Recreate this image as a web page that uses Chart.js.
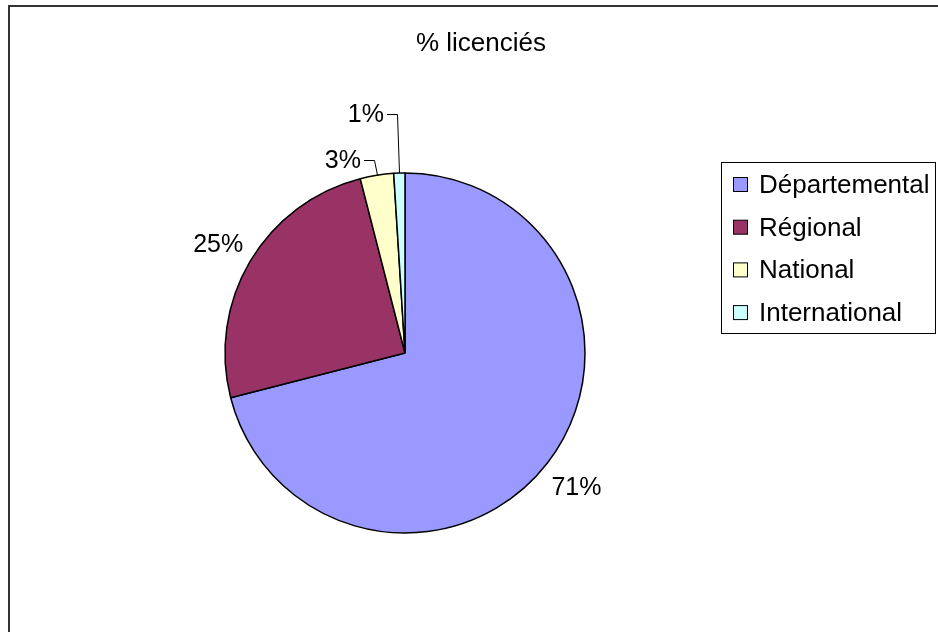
<!DOCTYPE html>
<html>
<head>
<meta charset="utf-8">
<script src="https://cdn.jsdelivr.net/npm/chart.js@4.4.0/dist/chart.umd.min.js"></script>
<style>
  html, body { margin: 0; padding: 0; background: #fff; }
  #wrap { width: 938px; height: 632px; position: relative; }
</style>
</head>
<body>
<div id="wrap"><canvas id="myChart" width="938" height="632"></canvas></div>
<script>
// data
const chartTitle = '% licenciés'
const categories = ['Départemental', 'Régional', 'National', 'International']
const shares = [71, 25, 3, 1]
const sliceColors = ['#9999FF', '#993366', '#FFFFCC', '#CCFFFF']
// leader line length for the thin slices (0 = plain label)
const leaderLift = [0, 0, 15, 59]

const FONT = '"Liberation Sans", Arial, sans-serif'

// frame, title, legend and percent labels
const decorations = {
  id: 'decorations',
  afterDraw(chart) {
    const ctx = chart.ctx
    ctx.save()

    // outer frame (only left & top are visible)
    ctx.strokeStyle = '#333'
    ctx.lineWidth = 2
    ctx.beginPath()
    ctx.moveTo(9, 640)
    ctx.lineTo(9, 6)
    ctx.lineTo(945, 6)
    ctx.stroke()

    // title
    ctx.fillStyle = '#000'
    ctx.font = '26px ' + FONT
    ctx.textAlign = 'center'
    ctx.textBaseline = 'alphabetic'
    ctx.fillText(chartTitle, 481, 51)

    // legend
    ctx.strokeStyle = '#000'
    ctx.lineWidth = 1
    ctx.strokeRect(721.5, 162.5, 214, 171)
    ctx.textAlign = 'left'
    categories.forEach((name, i) => {
      const base = 193 + i * 42.7
      ctx.fillStyle = sliceColors[i]
      ctx.fillRect(733.5, base - 15.5, 14, 14)
      ctx.strokeStyle = '#000'
      ctx.strokeRect(733.5, base - 15.5, 14, 14)
      ctx.fillStyle = '#000'
      ctx.fillText(name, 759, base)
    })

    // percent labels
    const total = shares.reduce((a, b) => a + b, 0)
    const arcs = chart.getDatasetMeta(0).data
    ctx.font = '25px ' + FONT
    ctx.lineWidth = 1
    ctx.strokeStyle = '#000'
    arcs.forEach((arc, i) => {
      const { x, y, startAngle, endAngle, outerRadius } = arc.getProps(['x', 'y', 'startAngle', 'endAngle', 'outerRadius'], true)
      const mid = (startAngle + endAngle) / 2
      const dx = Math.cos(mid), dy = Math.sin(mid)
      const txt = Math.round(shares[i] / total * 100) + '%'
      if (!leaderLift[i]) {
        ctx.textAlign = 'center'
        ctx.fillText(txt, x + (outerRadius + 37) * dx, y + (outerRadius + 37) * dy + 9)
      } else {
        const ax = x + outerRadius * dx, ay = y + outerRadius * dy
        const ex = ax + leaderLift[i] * dx, ey = ay + leaderLift[i] * dy
        ctx.beginPath()
        ctx.moveTo(Math.round(ax) + 0.5, ay)
        ctx.lineTo(Math.round(ex) + 0.5, Math.round(ey) + 0.5)
        ctx.lineTo(Math.round(ex) - 10, Math.round(ey) + 0.5)
        ctx.stroke()
        ctx.textAlign = 'right'
        ctx.fillText(txt, Math.round(ex) - 13, ey + 8)
      }
    })
    ctx.restore()
  }
}

const chart = document.querySelector('#myChart')

let myChart = new Chart(chart, {
  type: 'pie',
  data: {
    labels: categories,
    datasets: [
      {
        data: shares,
        backgroundColor: sliceColors,
        borderColor: '#000',
        borderWidth: 1.5
      }
    ]
  },
  options: {
    responsive: false,
    animation: false,
    radius: 180,
    layout: {
      padding: { left: 225, top: 173, right: 353, bottom: 99 }
    },
    plugins: {
      legend: { display: false },
      title: { display: false },
      tooltip: { enabled: false }
    }
  },
  plugins: [decorations]
});
</script>
</body>
</html>
